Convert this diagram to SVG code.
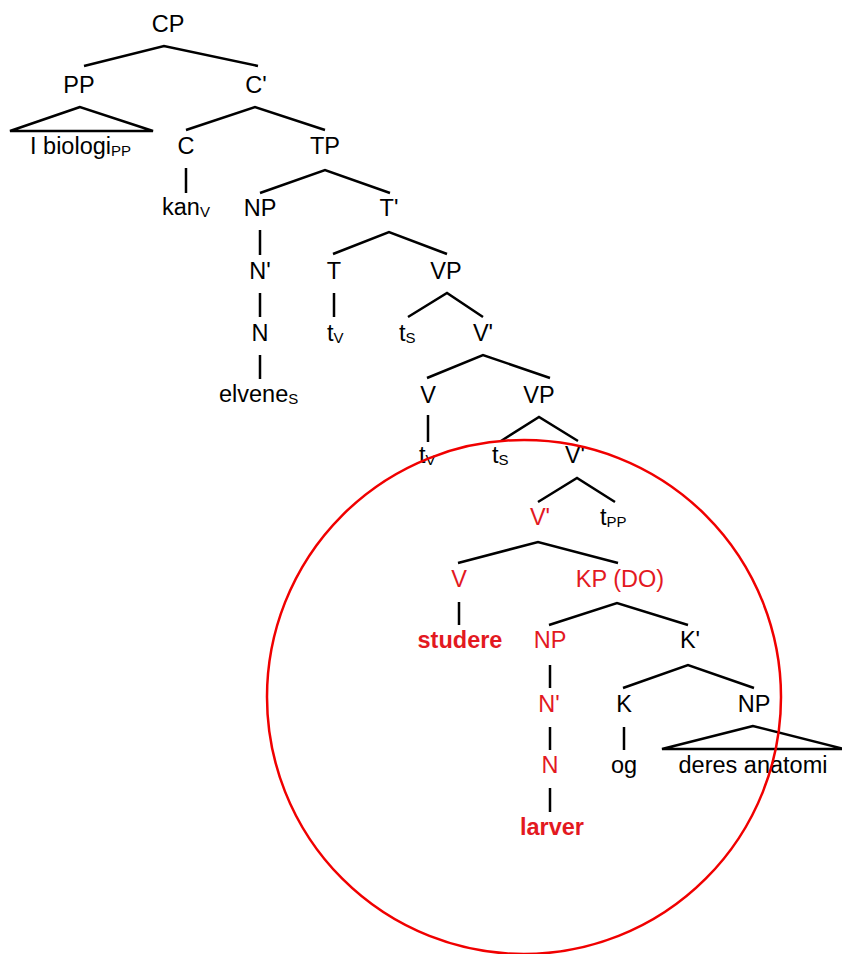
<svg xmlns="http://www.w3.org/2000/svg" width="842" height="954" viewBox="0 0 842 954">
  <style>
    text { font-family: "Liberation Sans", Arial, sans-serif; font-size: 23.5px; fill: #000; }
    .c { text-anchor: middle; }
    .red { fill: #e3191f; }
    .b { font-weight: bold; }
    .sub { font-size: 15px; }
    .edge { stroke: #000; stroke-width: 2.5; fill: none; }
    .tri { stroke: #000; stroke-width: 2.5; fill: none; stroke-linejoin: miter; }
    .ring { stroke: #f00000; stroke-width: 2.5; fill: none; }
  </style>
  <rect width="842" height="954" fill="#fff"/>

  <!-- branches -->
  <g id="connectors">
    <polyline class="edge" points="84,66 164,46 258,66"/>
    <polygon class="tri" points="80,107 10,131 153,131"/>
    <polyline class="edge" points="186,130 255,107 325,130"/>
    <line class="edge" x1="186" y1="168" x2="186" y2="193"/>
    <polyline class="edge" points="260,193 325,170 390,193"/>
    <line class="edge" x1="260" y1="230" x2="260" y2="255"/>
    <polyline class="edge" points="333,254 389,232 447,254"/>
    <line class="edge" x1="260" y1="293" x2="260" y2="317"/>
    <line class="edge" x1="334" y1="293" x2="334" y2="317"/>
    <polyline class="edge" points="408,317 447,293 483,317"/>
    <line class="edge" x1="260" y1="355" x2="260" y2="379"/>
    <polyline class="edge" points="427,378 483,355 550,378"/>
    <line class="edge" x1="428" y1="415" x2="428" y2="442"/>
    <polyline class="edge" points="501,441 539,417 578,441"/>
    <polyline class="edge" points="538,502 577,478 615,502"/>
    <polyline class="edge" points="458,563 538,542 618,563"/>
    <line class="edge" x1="459" y1="602" x2="459" y2="625"/>
    <polyline class="edge" points="549,625 617,603 688,625"/>
    <line class="edge" x1="550" y1="665" x2="550" y2="688"/>
    <polyline class="edge" points="623,688 688,665 754,688"/>
    <line class="edge" x1="550" y1="727" x2="550" y2="750"/>
    <line class="edge" x1="624" y1="727" x2="624" y2="750"/>
    <polygon class="tri" points="753,726 662,749 844,749"/>
    <line class="edge" x1="550" y1="788" x2="550" y2="812"/>
  </g>

  <g id="n-cp"><text class="c" x="168" y="32">CP</text></g>
  <g id="n-pp"><text class="c" x="79" y="93">PP</text></g>
  <g id="n-pp-words"><text x="30" y="154">I biologi<tspan class="sub" dy="2">PP</tspan></text></g>
  <g id="n-cbar"><text class="c" x="256" y="93">C'</text></g>
  <g id="n-c"><text class="c" x="186" y="154">C</text></g>
  <g id="n-kan"><text x="162" y="215">kan<tspan class="sub" dy="2">V</tspan></text></g>
  <g id="n-tp"><text class="c" x="325" y="154">TP</text></g>
  <g id="n-np1"><text class="c" x="260" y="216">NP</text></g>
  <g id="n-nbar1"><text class="c" x="260" y="279">N'</text></g>
  <g id="n-n1"><text class="c" x="260" y="341">N</text></g>
  <g id="n-elvene"><text x="219" y="402">elvene<tspan class="sub" dy="2">S</tspan></text></g>
  <g id="n-tbar"><text class="c" x="389" y="216">T'</text></g>
  <g id="n-t"><text class="c" x="334" y="279">T</text></g>
  <g id="n-tv1"><text x="327" y="341">t<tspan class="sub" dy="2">V</tspan></text></g>
  <g id="n-vp1"><text class="c" x="446" y="279">VP</text></g>
  <g id="n-ts1"><text x="399" y="341">t<tspan class="sub" dy="2">S</tspan></text></g>
  <g id="n-vbar1"><text class="c" x="483" y="341">V'</text></g>
  <g id="n-v1"><text class="c" x="428" y="403">V</text></g>
  <g id="n-tv2"><text x="419" y="463">t<tspan class="sub" dy="2">V</tspan></text></g>
  <g id="n-vp2"><text class="c" x="539" y="403">VP</text></g>
  <g id="n-ts2"><text x="492" y="463">t<tspan class="sub" dy="2">S</tspan></text></g>
  <g id="n-vbar2"><text class="c" x="575" y="463">V'</text></g>
  <g id="n-vbar3"><text class="c red" x="540" y="525">V'</text></g>
  <g id="n-tpp"><text x="600" y="525">t<tspan class="sub" dy="2">PP</tspan></text></g>
  <g id="n-v2"><text class="c red" x="459" y="587">V</text></g>
  <g id="n-studere"><text class="c red b" x="460" y="648">studere</text></g>
  <g id="n-kp"><text class="c red" x="620" y="587">KP (DO)</text></g>
  <g id="n-np2"><text class="c red" x="550" y="648">NP</text></g>
  <g id="n-nbar2"><text class="c red" x="549" y="712">N'</text></g>
  <g id="n-n2"><text class="c red" x="550" y="773">N</text></g>
  <g id="n-larver"><text class="c red b" x="552" y="835">larver</text></g>
  <g id="n-kbar"><text class="c" x="690" y="648">K'</text></g>
  <g id="n-k"><text class="c" x="624" y="712">K</text></g>
  <g id="n-og"><text class="c" x="624" y="773">og</text></g>
  <g id="n-np3"><text class="c" x="754" y="712">NP</text></g>
  <g id="n-np3-words"><text class="c" x="753" y="773">deres anatomi</text></g>

  <!-- highlight ring -->
  <circle class="ring" cx="524" cy="697" r="257"/>
</svg>
